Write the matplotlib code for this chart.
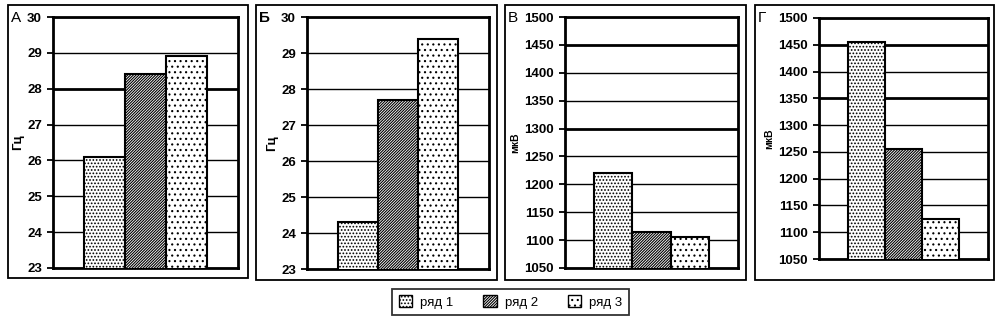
import numpy as np
import matplotlib
matplotlib.use("Agg")
import matplotlib.pyplot as plt
from matplotlib.patches import Rectangle, Patch

# -----------------------------
# Data
# -----------------------------
PANEL_LETTERS = ["А", "Б", "В", "Г"]
SERIES = ["ряд 1", "ряд 2", "ряд 3"]
Y_LABELS = ["Гц", "Гц", "мкВ", "мкВ"]

HZ_A = [26.1, 28.4, 28.9]
HZ_B = [24.3, 27.7, 29.4]
UV_V = [1220, 1115, 1105]
UV_G = [1455, 1255, 1125]

HZ_TICKS = np.arange(23, 31, 1)
UV_TICKS = np.arange(1050, 1501, 50)

# -----------------------------
# Style / layout (pixels)
# -----------------------------
W, H = 1004, 322
plt.rcParams.update({
    "font.family": ["Liberation Sans", "DejaVu Sans"],
    "hatch.linewidth": 0.8,
})
HATCHES = [".....", "/" * 12, "..."]

# outer frame (x0, y0, x1, y1) and plot area (x0, y0, x1, y1)
FRAMES = [(8, 5, 248, 278), (256, 5, 497, 280), (505, 5, 746, 280), (755, 5, 994, 280)]
PLOTS = [(53, 17, 238, 268), (307, 17, 489, 269), (565, 17, 738, 268), (819, 18, 988, 259)]
THICK_GRID = [[28], [], [1450, 1300], [1450, 1350]]
YLABEL_SIZE = [9.5, 9.5, 7.5, 7.5]
YLABEL_PAD = [2, 2, 3, 3]

panel_values = [HZ_A, HZ_B, UV_V, UV_G]
panel_ticks = [HZ_TICKS, HZ_TICKS, UV_TICKS, UV_TICKS]


def px_rect(x0, y0, x1, y1):
    return [x0 / W, 1 - y1 / H, (x1 - x0) / W, (y1 - y0) / H]


fig = plt.figure(figsize=(W / 100, H / 100), dpi=100)

offsets = np.array([-0.22, 0.0, 0.22])
for i in range(4):
    fx0, fy0, fx1, fy1 = FRAMES[i]
    fig.add_artist(Rectangle((fx0 / W, 1 - fy1 / H), (fx1 - fx0) / W, (fy1 - fy0) / H,
                             transform=fig.transFigure, fill=False,
                             edgecolor="black", linewidth=1.3))
    ax = fig.add_axes(px_rect(*PLOTS[i]))
    ticks = panel_ticks[i]
    vals = panel_values[i]
    for j in range(3):
        ax.bar(offsets[j], vals[j], width=0.22, bottom=0, color="white",
               edgecolor="black", hatch=HATCHES[j], linewidth=1.5, zorder=3)
    ax.set_xlim(-0.5, 0.5)
    ax.set_ylim(ticks[0], ticks[-1])
    ax.set_yticks(ticks)
    ax.set_yticklabels([str(t) for t in ticks], fontsize=9.5, fontweight="bold")
    ax.set_xticks([])
    ax.tick_params(axis="y", direction="out", length=4, width=1.3, pad=4)
    ax.yaxis.grid(True, color="black", linewidth=1.0, zorder=0)
    ax.set_axisbelow(True)
    for t, gl in zip(ticks, ax.get_ygridlines()):
        if t in THICK_GRID[i]:
            gl.set_linewidth(2.0)
    for sp in ax.spines.values():
        sp.set_linewidth(2.0)
        sp.set_color("black")
    ax.set_ylabel(Y_LABELS[i], fontsize=YLABEL_SIZE[i], fontweight="bold",
                  labelpad=YLABEL_PAD[i])
    fig.text((fx0 + 3) / W, 1 - (fy0 + 13) / H, PANEL_LETTERS[i],
             fontsize=11, fontweight="bold" if i == 1 else "normal",
             ha="left", va="center")

handles = [Patch(facecolor="white", edgecolor="black", hatch=HATCHES[j], linewidth=1.0)
           for j in range(3)]
leg = fig.legend(handles, SERIES, loc="center",
                 bbox_to_anchor=((393 + 628) / 2 / W, 1 - 302 / H),
                 ncol=3, fontsize=9.5, frameon=True, fancybox=False,
                 edgecolor="black", handlelength=1.0, handleheight=1.0,
                 columnspacing=2.3, handletextpad=0.6, borderpad=0.5)
leg.get_frame().set_linewidth(1.3)

fig.savefig("out.png", dpi=100)
